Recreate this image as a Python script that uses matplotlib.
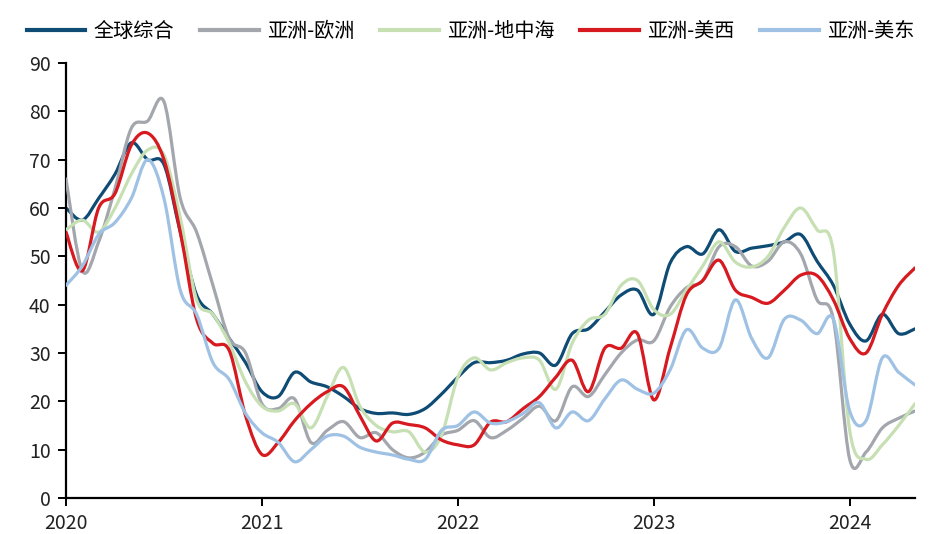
import matplotlib
matplotlib.use("Agg")
import matplotlib.pyplot as plt
from matplotlib.path import Path
from matplotlib.patches import PathPatch
from matplotlib.lines import Line2D
import numpy as np

plt.rcParams['font.family'] = ['Noto Sans CJK SC', 'DejaVu Sans']

# Monthly index, Jan 2020 (0) .. May 2024 (52)
months = list(range(53))
year_ticks = [0, 12, 24, 36, 48]
year_labels = ['2020', '2021', '2022', '2023', '2024']

series_names = ['全球综合', '亚洲-欧洲', '亚洲-地中海', '亚洲-美西', '亚洲-美东']

global_index = [60, 57.5, 62, 67, 73.5, 70, 69, 55, 42, 38, 33, 28,
                22, 21, 26, 24, 23, 21, 18.5, 17.5, 17.6, 17.3, 18.5, 21.5,
                25, 28, 28, 28.5, 29.8, 30, 27.5, 34, 35, 38.5, 42, 43,
                38, 48.6, 52, 50.5, 55.5, 51, 51.7, 52.2, 53, 54.5, 49, 44,
                36, 32.5, 38, 34, 35]

asia_europe = [66, 47, 53, 64, 76.5, 78, 82, 62, 55, 44, 33, 30,
               19.5, 18.5, 20.5, 11.5, 14, 15.8, 12.5, 13.5, 10, 8.3, 9.5, 13,
               14, 16, 12.5, 14, 16.5, 19, 16, 23, 21, 25.5, 30, 32.7,
               32.5, 39.5, 43.5, 45, 52, 52, 48, 49, 53, 50.5, 41, 37,
               8, 9.5, 14.5, 16.5, 18]

asia_med = [55.5, 57.5, 55, 60, 67, 72, 71, 58, 41, 38, 32, 24,
            19, 18, 19.5, 14.5, 21, 27, 19, 15, 13.7, 13.7, 9.5, 13,
            25, 29, 26.5, 28, 29, 28.5, 22.5, 32, 36.8, 38, 44, 45,
            39, 38, 43, 48, 53, 48.8, 47.8, 50, 56, 60, 55.5, 51,
            14, 8, 11, 15, 19.5]

asia_uswest = [55, 47, 60, 63, 73, 75.5, 70, 55, 37, 32, 30.5, 17,
               9, 11.5, 16, 19.5, 22, 23, 17, 11.8, 15.5, 15.2, 14.5, 12,
               11, 11, 15.7, 15.8, 18.5, 21, 25, 28.5, 22, 31, 31, 34,
               20.3, 31, 42, 45, 49.2, 43, 41.5, 40.3, 43, 46.1, 46, 41,
               33, 30, 38, 44, 47.6]

asia_useast = [44, 48, 54.5, 57, 62, 70, 62, 43, 38, 28, 24.5, 17.5,
               13.5, 11.5, 7.5, 10, 12.8, 12.8, 10.5, 9.5, 8.9, 8, 8, 14,
               15, 17.8, 15.5, 15.8, 17.5, 19.7, 14.5, 17.8, 16, 20.5, 24.4, 22.5,
               21.7, 26.5, 34.8, 31, 31, 41, 33, 29, 37, 36.8, 34, 37,
               18, 16, 29, 26, 23.4]

colors = ['#0f4c75', '#a3a6ad', '#c6e0b4', '#d71920', '#9fc2e4']
all_series = [global_index, asia_europe, asia_med, asia_uswest, asia_useast]


def smooth_path(x, y):
    """Catmull-Rom spline through the points, expressed as cubic Bezier segments."""
    x = np.asarray(x, float)
    y = np.asarray(y, float)
    pts = np.column_stack([x, y])
    n = len(pts)
    verts = [pts[0]]
    codes = [Path.MOVETO]
    for i in range(n - 1):
        p0 = pts[i - 1] if i > 0 else pts[i]
        p1 = pts[i]
        p2 = pts[i + 1]
        p3 = pts[i + 2] if i + 2 < n else pts[i + 1]
        c1 = p1 + (p2 - p0) / 6.0
        c2 = p2 - (p3 - p1) / 6.0
        verts.extend([c1, c2, p2])
        codes.extend([Path.CURVE4] * 3)
    return Path(verts, codes)


fig = plt.figure(figsize=(9.32, 5.34), dpi=100)
ax = fig.add_axes([66 / 932, 1 - 498 / 534, (915 - 66) / 932, (498 - 63) / 534])

handles = []
for k, (vals, col, name) in enumerate(zip(all_series, colors, series_names)):
    patch = PathPatch(smooth_path(months, vals), facecolor='none', edgecolor=col,
                      lw=2.3, capstyle='round', joinstyle='round',
                      transform=ax.transData, zorder=2 + k)
    ax.add_patch(patch)
    handles.append(Line2D([], [], color=col, lw=3, label=name))

ax.set_xlim(0, 52)
ax.set_ylim(0, 90)
ax.set_yticks(range(0, 91, 10))
ax.set_xticks(year_ticks)
ax.set_xticklabels(year_labels)

for side in ['top', 'right']:
    ax.spines[side].set_visible(False)
for side in ['left', 'bottom']:
    ax.spines[side].set_linewidth(1.6)
    ax.spines[side].set_color('black')

ax.tick_params(axis='both', direction='out', length=6, width=1.4,
               labelsize=14, colors='black', labelcolor='#222222')
ax.tick_params(axis='x', pad=5)
ax.tick_params(axis='y', pad=5)

fig.legend(handles=handles, loc='upper center', bbox_to_anchor=(0.505, 0.995),
           ncol=5, frameon=False, fontsize=14.5, handlelength=2.9,
           handletextpad=0.4, columnspacing=1.3)

fig.savefig('out.png', dpi=100)
